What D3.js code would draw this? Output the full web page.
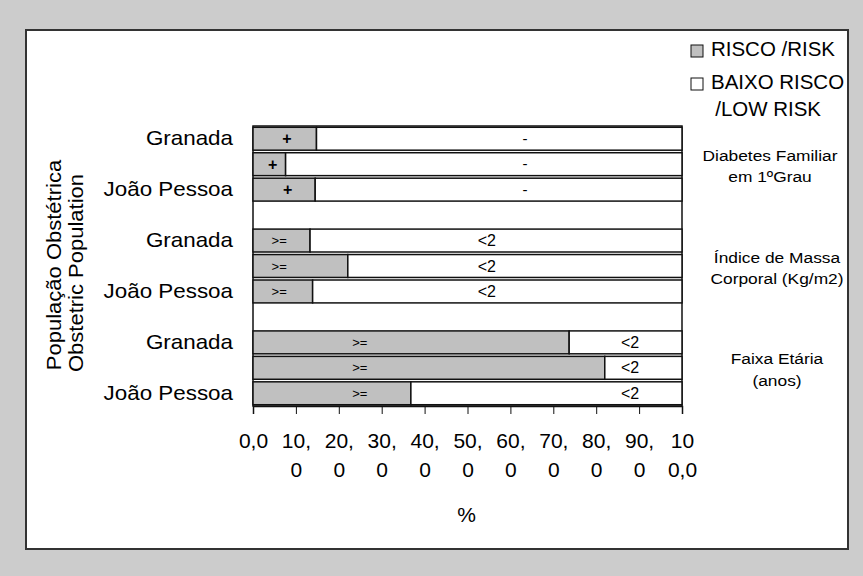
<!DOCTYPE html>
<html>
<head>
<meta charset="utf-8">
<script src="https://cdn.jsdelivr.net/npm/d3@7"></script>
<style>
  body { margin: 0; background: #cccccc; }
  text { font-family: "Liberation Sans", Arial, sans-serif; fill: #000; }
</style>
</head>
<body>
<svg id="chart" width="863" height="576"></svg>
<script>
// Risk factors (one block of bars each), with the note printed beside the block
const factors = [
  ["Diabetes Familiar", "em 1ºGrau"],
  ["Índice de Massa", "Corporal (Kg/m2)"],
  ["Faixa Etária", "(anos)"]
];
// Obstetric populations inside every block (the middle one carries no label)
const populations = ["Granada", "", "João Pessoa"];
// Segment symbols per block
const riskSymbols = ["+", ">=", ">="];
const lowSymbols = ["-", "<2", "<2"];
// Share of women at risk (%), block by block, top to bottom
const riskPct = [14.8, 7.6, 14.5, 13.3, 22.1, 13.9, 73.7, 82.0, 36.8];
// Where along the % axis each symbol sits
const riskLabelAt = [7.9, 4.6, 8.1, 6.1, 6.1, 6.1, 24.9, 24.9, 24.9];
const lowLabelAt = [63.4, 63.4, 63.4, 54.5, 54.5, 54.5, 87.9, 87.9, 87.9];
// Axis ticks and their (wrapped) labels
const xTicks = [0, 10, 20, 30, 40, 50, 60, 70, 80, 90, 100];
const xTickLines = [["0,0"], ["10,", "0"], ["20,", "0"], ["30,", "0"], ["40,", "0"],
  ["50,", "0"], ["60,", "0"], ["70,", "0"], ["80,", "0"], ["90,", "0"], ["10", "0,0"]];
const legendLines = [["RISCO /RISK"], ["BAIXO RISCO", "/LOW RISK"]];
const yTitleLines = ["População Obstétrica", "Obstetric Population"];
const xTitle = "%";

const svg = d3.select("#chart");
const W = 863, H = 576;
const plot = { left: 253, right: 682, top: 126, bottom: 406 };
const colors = { risk: "#c0c0c0", low: "#ffffff" };
const wide = 1.12;   // horizontal widening of the label face

// text block anchored at (x, y), widened horizontally, lines stacked by lineGap
function textBlock(parent, x, y, lines, opts) {
  const g = parent.append("g")
    .attr("transform", `translate(${x},${y})${opts.rotate ? " rotate(" + opts.rotate + ")" : ""} scale(${opts.sx || 1},1)`);
  const t = g.append("text").attr("font-size", opts.size)
    .attr("text-anchor", opts.anchor || "start");
  lines.forEach((line, j) => t.append("tspan").attr("x", (opts.indent && j > 0) ? opts.indent : 0)
    .attr("dy", j === 0 ? 0 : opts.lineGap).text(line));
  return g;
}

// outer frame
svg.append("rect").attr("width", W).attr("height", H).attr("fill", "#cccccc");
svg.append("rect").attr("x", 26).attr("y", 30).attr("width", 822).attr("height", 519)
  .attr("fill", "#fff").attr("stroke", "#333").attr("stroke-width", 2);

// rows: three populations per factor, blank slot between factors
const rows = [];
const slots = [];
factors.forEach((f, g) => {
  if (g > 0) slots.push("gap" + g);
  populations.forEach((p, i) => {
    const k = g * populations.length + i;
    const id = "r" + k;
    slots.push(id);
    rows.push({ id, g, pop: p, risk: riskPct[k], low: 100 - riskPct[k],
      riskAt: riskLabelAt[k], lowAt: lowLabelAt[k] });
  });
});

const x = d3.scaleLinear().domain([0, 100]).range([plot.left, plot.right]);
const y = d3.scaleBand().domain(slots).range([plot.top, plot.bottom])
  .paddingInner(0.1).paddingOuter(0.05);

// plot area
svg.append("rect").attr("x", plot.left).attr("y", plot.top)
  .attr("width", plot.right - plot.left).attr("height", plot.bottom - plot.top)
  .attr("fill", "#fff").attr("stroke", "#111").attr("stroke-width", 1.5);

const stacked = d3.stack().keys(["risk", "low"])(rows);
svg.append("g").selectAll("g").data(stacked).join("g")
  .attr("fill", d => colors[d.key])
  .selectAll("rect").data(d => d).join("rect")
  .attr("x", d => x(d[0]))
  .attr("y", d => y(d.data.id))
  .attr("width", d => x(d[1]) - x(d[0]))
  .attr("height", y.bandwidth())
  .attr("stroke", "#111").attr("stroke-width", 1.5);

// segment symbols
const lab = svg.append("g").attr("text-anchor", "middle");
rows.forEach(r => {
  const cy = y(r.id) + y.bandwidth() / 2;
  const rs = riskSymbols[r.g], ls = lowSymbols[r.g];
  lab.append("text").attr("x", x(r.riskAt)).attr("y", cy).attr("dy", "0.35em")
    .attr("font-size", rs === "+" ? 16 : 13).attr("font-weight", rs === "+" ? "bold" : "normal")
    .text(rs);
  lab.append("text").attr("x", x(r.lowAt)).attr("y", cy).attr("dy", "0.35em")
    .attr("font-size", ls === "-" ? 15 : 16).text(ls);
});

// x axis
const xAxis = svg.append("g").attr("transform", `translate(0,${plot.bottom})`)
  .call(d3.axisBottom(x).tickValues(xTicks).tickSize(8).tickFormat(""));
xAxis.select(".domain").attr("stroke", "#111").attr("stroke-width", 1.5);
xAxis.selectAll(".tick line").attr("stroke", "#111");
xAxis.selectAll(".tick").each(function (d, i) {
  const t = d3.select(this).append("text").attr("text-anchor", "middle")
    .attr("font-size", 21).attr("y", 42);
  xTickLines[i].forEach((line, j) => {
    t.append("tspan").attr("x", 0).attr("dy", j === 0 ? 0 : 29).text(line);
  });
});

// y axis (population names)
const yAxis = svg.append("g").attr("transform", `translate(${plot.left},0)`)
  .call(d3.axisLeft(y).tickValues(rows.map(r => r.id)).tickSize(0).tickPadding(20)
    .tickFormat(id => rows.find(r => r.id === id).pop));
yAxis.select(".domain").remove();
yAxis.selectAll("text").attr("font-size", 20).attr("fill", "#000")
  .attr("font-family", "'Liberation Sans', Arial, sans-serif")
  .attr("x", -20 / wide).attr("transform", `scale(${wide},1)`);

// axis titles
svg.append("text").attr("x", (plot.left + plot.right) / 2 - 1).attr("y", 522)
  .attr("text-anchor", "middle").attr("font-size", 21).text(xTitle);
const yt = [{ x: 61, y: 265 }, { x: 83, y: 273 }];
yTitleLines.forEach((line, i) => {
  textBlock(svg, yt[i].x, yt[i].y, [line], { size: 20, anchor: "middle", rotate: -90, sx: 1.1 });
});

// factor notes beside each block
factors.forEach((lines, g) => {
  const mid = y("r" + (g * populations.length + 1));
  const cy = mid + y.bandwidth() / 2;
  textBlock(svg, g === 0 ? 770 : 777, cy - 3.5, lines, { size: 15.5, anchor: "middle", sx: wide, lineGap: 21.5 });
});

// legend
const legend = svg.append("g");
const legendTops = [45, 78];
["risk", "low"].forEach((k, i) => {
  legend.append("rect").attr("x", 691).attr("y", legendTops[i]).attr("width", 12).attr("height", 12)
    .attr("fill", colors[k]).attr("stroke", "#111").attr("stroke-width", 1);
  textBlock(legend, 711, legendTops[i] + 11, legendLines[i],
    { size: 19.5, sx: 1.05, lineGap: 26.7, indent: 4 });
});
</script>
</body>
</html>
